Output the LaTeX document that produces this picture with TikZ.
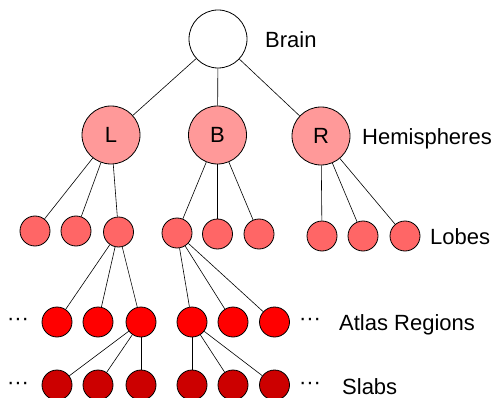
\documentclass[tikz,border=0pt]{standalone}
\usepackage{fontspec}
\setmainfont{Liberation Sans}
\usepackage{xcolor}
\usetikzlibrary{positioning}
\definecolor{hemipink} {HTML}{FF9999}
\definecolor{lobepink} {HTML}{FF6666}
\definecolor{atlasred} {HTML}{FF0000}
\definecolor{slabred}  {HTML}{CC0000}
\tikzset{
  bigtext/.style   ={font=\fontsize{22}{26}\selectfont},
  brainnode/.style ={circle, draw=black, fill=white, line width=0.8pt,
                     minimum size=58pt, inner sep=0pt},
  hemnode/.style   ={circle, draw=black, fill=hemipink, line width=0.8pt,
                     minimum size=58pt, inner sep=0pt, bigtext},
  lobenode/.style  ={circle, draw=black, fill=lobepink, line width=0.8pt,
                     minimum size=30pt, inner sep=0pt},
  atlasnode/.style ={circle, draw=black, fill=atlasred, line width=0.8pt,
                     minimum size=30pt, inner sep=0pt},
  slabnode/.style  ={circle, draw=black, fill=slabred, line width=0.8pt,
                     minimum size=30pt, inner sep=0pt},
  levellabel/.style={anchor=base west, inner sep=0pt, bigtext},
  dotslabel/.style ={inner sep=0pt, bigtext},
  treeline/.style  ={line width=0.6pt},
}

\begin{document}
\begin{tikzpicture}[x=1pt,y=-1pt]
    \useasboundingbox (0,0) rectangle (492,398);

    % brain and hemispheres
    \node[brainnode] (brain) at (218,39) {};
    \node[levellabel] (brainlbl) at (265,48) {Brain};
    \node[hemnode] (hemL) at (111,135) {L};
    \node[hemnode] (hemB) at (217.5,135) {B};
    \node[hemnode] (hemR) at (321,136) {R};
    \node[levellabel] (hemlbl) at (362,145) {Hemispheres};

    % lobes
    \node[lobenode] (lobeL1) at (35,231) {};
    \node[lobenode] (lobeL2) at (76,231) {};
    \node[lobenode] (lobeL3) at (118.5,232) {};
    \node[lobenode] (lobeB1) at (177,233) {};
    \node[lobenode] (lobeB2) at (217.5,234) {};
    \node[lobenode] (lobeB3) at (259,234) {};
    \node[lobenode] (lobeR1) at (322,236) {};
    \node[lobenode] (lobeR2) at (363,236) {};
    \node[lobenode] (lobeR3) at (405,236) {};
    \node[levellabel] (lobelbl) at (430,244) {Lobes};

    % atlas regions
    \node[atlasnode] (atlas1) at (57,322) {};
    \node[atlasnode] (atlas2) at (98,322) {};
    \node[atlasnode] (atlas3) at (141,322) {};
    \node[atlasnode] (atlas4) at (192,322) {};
    \node[atlasnode] (atlas5) at (233,322) {};
    \node[atlasnode] (atlas6) at (274.5,322) {};
    \node[dotslabel] (atlasdotsL) at (18,322) {···};
    \node[dotslabel] (atlasdotsR) at (310,322) {···};
    \node[levellabel] (atlaslbl) at (339,330) {Atlas Regions};

    % slabs
    \node[slabnode] (slab1) at (57,385) {};
    \node[slabnode] (slab2) at (98,385) {};
    \node[slabnode] (slab3) at (141,385) {};
    \node[slabnode] (slab4) at (192,385) {};
    \node[slabnode] (slab5) at (233,385) {};
    \node[slabnode] (slab6) at (274.5,385) {};
    \node[dotslabel] (slabdotsL) at (18,386) {···};
    \node[dotslabel] (slabdotsR) at (310,386) {···};
    \node[levellabel] (slablbl) at (342,394) {Slabs};

    % connectors
    \foreach \c in {hemL,hemB,hemR} \draw[treeline] (brain) -- (\c);
    \foreach \c in {lobeL1,lobeL2,lobeL3} \draw[treeline] (hemL) -- (\c);
    \foreach \c in {lobeB1,lobeB2,lobeB3} \draw[treeline] (hemB) -- (\c);
    \foreach \c in {lobeR1,lobeR2,lobeR3} \draw[treeline] (hemR) -- (\c);
    \foreach \c in {atlas1,atlas2,atlas3} \draw[treeline] (lobeL3) -- (\c);
    \foreach \c in {atlas4,atlas5,atlas6} \draw[treeline] (lobeB1) -- (\c);
    \foreach \c in {slab1,slab2,slab3} \draw[treeline] (atlas3) -- (\c);
    \foreach \c in {slab4,slab5,slab6} \draw[treeline] (atlas4) -- (\c);
  \end{tikzpicture}
\end{document}
